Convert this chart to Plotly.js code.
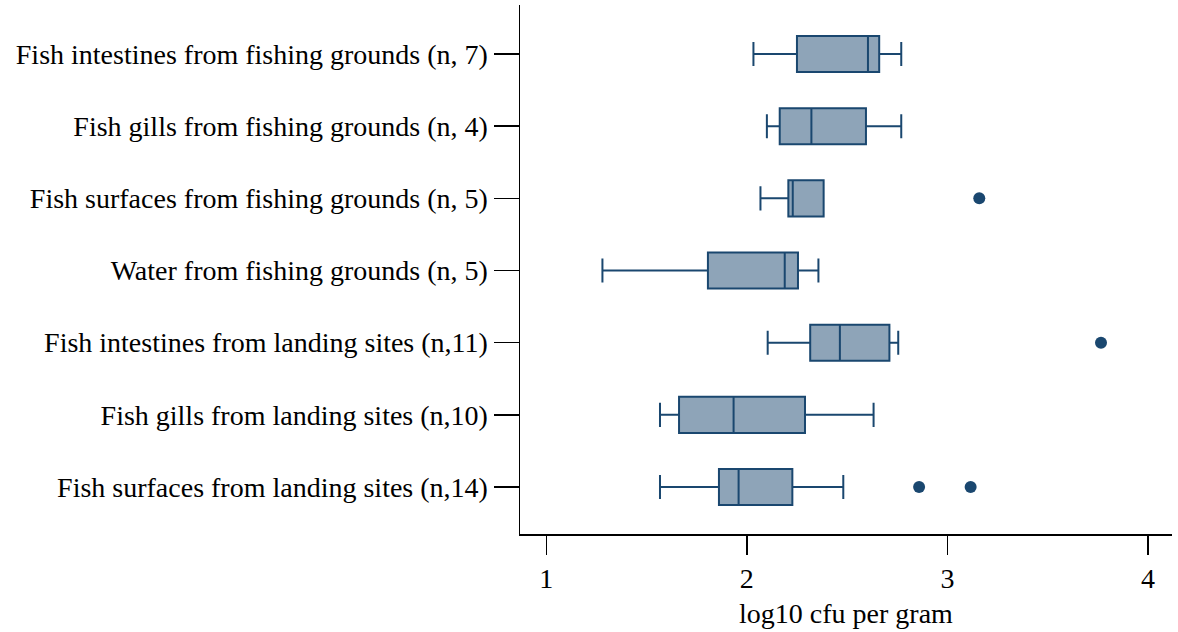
<!DOCTYPE html>
<html>
<head>
<meta charset="utf-8">
<script src="https://cdn.plot.ly/plotly-3.0.1.min.js"></script>
<style>html,body{margin:0;padding:0;background:#fff;}#chart{width:1178px;height:632px;}</style>
</head>
<body>
<div id="chart"></div>
<script>
const categories = [
  "Fish intestines from fishing grounds (n, 7)",
  "Fish gills from fishing grounds (n, 4)",
  "Fish surfaces from fishing grounds (n, 5)",
  "Water from fishing grounds (n, 5)",
  "Fish intestines from landing sites (n,11)",
  "Fish gills from landing sites (n,10)",
  "Fish surfaces from landing sites (n,14)"
];
const lowerWhisker = [2.033, 2.100, 2.068, 1.280, 2.104, 1.567, 1.567];
const q1Values     = [2.250, 2.164, 2.207, 1.806, 2.316, 1.662, 1.861];
const medianValues = [2.604, 2.322, 2.229, 2.189, 2.464, 1.934, 1.959];
const q3Values     = [2.660, 2.594, 2.383, 2.255, 2.711, 2.290, 2.227];
const upperWhisker = [2.770, 2.770, 2.383, 2.357, 2.755, 2.632, 2.481];
const outlierX = [3.159, 3.766, 2.859, 3.116];
const outlierCat = [
  "Fish surfaces from fishing grounds (n, 5)",
  "Fish intestines from landing sites (n,11)",
  "Fish surfaces from landing sites (n,14)",
  "Fish surfaces from landing sites (n,14)"
];
const xTicks = [1, 2, 3, 4];
const xTitle = "log10 cfu per gram";

const lineColor = "rgb(26,71,111)";
const fillColor = "rgb(142,164,184)";
const fontFam = "Liberation Serif, Times New Roman, serif";

const traces = [
  {
    type: "box",
    orientation: "h",
    y: categories,
    q1: q1Values,
    median: medianValues,
    q3: q3Values,
    lowerfence: lowerWhisker,
    upperfence: upperWhisker,
    boxpoints: false,
    width: 0.5,
    whiskerwidth: 0.667,
    fillcolor: fillColor,
    line: {color: lineColor, width: 2},
    hoverinfo: "skip",
    showlegend: false
  },
  {
    type: "scatter",
    mode: "markers",
    x: outlierX,
    y: outlierCat,
    marker: {color: lineColor, size: 12},
    hoverinfo: "skip",
    showlegend: false
  }
];

const layout = {
  width: 1178,
  height: 632,
  margin: {l: 520, r: 6, t: 5, b: 98},
  paper_bgcolor: "#fff",
  plot_bgcolor: "#fff",
  font: {family: fontFam, size: 28, color: "#000"},
  xaxis: {
    range: [0.869, 4.12],
    tickvals: xTicks,
    ticktext: xTicks.map(String),
    showgrid: false,
    zeroline: false,
    showline: true,
    linecolor: "#000",
    linewidth: 1.5,
    ticks: "outside",
    ticklen: 19,
    tickwidth: 1.5,
    tickcolor: "#000",
    tickfont: {family: fontFam, size: 28},
    title: {text: xTitle, font: {family: fontFam, size: 28}, standoff: 10},
    automargin: false
  },
  yaxis: {
    type: "category",
    categoryorder: "array",
    categoryarray: categories,
    range: [6.651, -0.679],
    showgrid: false,
    zeroline: false,
    showline: true,
    linecolor: "#000",
    linewidth: 1.5,
    ticks: "outside",
    ticklen: 25,
    tickwidth: 1.5,
    tickcolor: "#000",
    tickfont: {family: fontFam, size: 28},
    automargin: false
  }
};

Plotly.newPlot("chart", traces, layout, {displayModeBar: false, staticPlot: true});
</script>
</body>
</html>
